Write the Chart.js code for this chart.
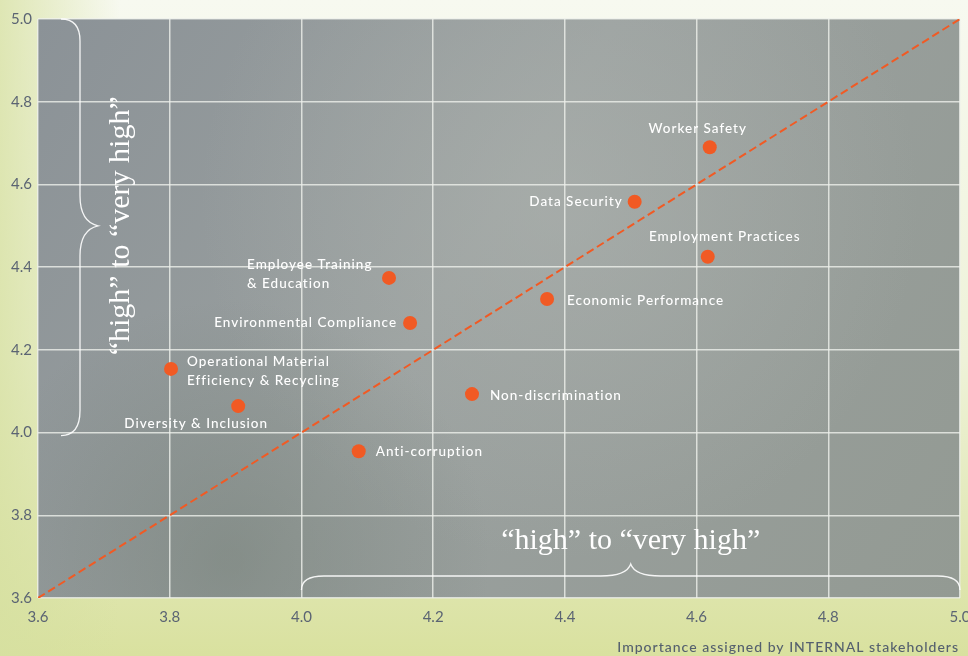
<!DOCTYPE html>
<html>
<head>
<meta charset="utf-8">
<script src="https://cdn.jsdelivr.net/npm/chart.js@4"></script>
<style>
  html, body { margin: 0; padding: 0; background: #f3f6e8; overflow: hidden; }
  #wrap { width: 968px; height: 656px; position: relative; }
</style>
</head>
<body>
<div id="wrap"><canvas id="materiality"></canvas></div>
<script>
// Importance assigned by INTERNAL (x) vs EXTERNAL (y) stakeholders
const issueNames = [
  ['Worker Safety'],
  ['Data Security'],
  ['Employment Practices'],
  ['Economic Performance'],
  ['Employee Training', '& Education'],
  ['Environmental Compliance'],
  ['Operational Material', 'Efficiency & Recycling'],
  ['Diversity & Inclusion'],
  ['Non-discrimination'],
  ['Anti-corruption']
];
const internalScores = [4.62, 4.506, 4.617, 4.373, 4.133, 4.165, 3.802, 3.904, 4.259, 4.087];
const externalScores = [4.69, 4.558, 4.425, 4.323, 4.374, 4.265, 4.154, 4.064, 4.093, 3.955];
const parityLine = [3.6, 5.0];
const tickValues = [3.6, 3.8, 4.0, 4.2, 4.4, 4.6, 4.8, 5.0];
const braceText = '\u201Chigh\u201D to \u201Cvery high\u201D';
const braceRange = [4.0, 5.0];
const axisTitle = 'Importance assigned by INTERNAL stakeholders';

// label placement relative to each point (style only)
const labelPlacement = [
  { dx: -12, dy: -19, align: 'center' },
  { dx: -12, dy: 0, align: 'right' },
  { dx: 17, dy: -20, align: 'center' },
  { dx: 20, dy: 2, align: 'left' },
  { dx: -142, dy: -13, align: 'left' },
  { dx: -13, dy: 0, align: 'right' },
  { dx: 16, dy: -7, align: 'left' },
  { dx: -42, dy: 18, align: 'center' },
  { dx: 18, dy: 2, align: 'left' },
  { dx: 17, dy: 0, align: 'left' }
];

const ORANGE = '#f15a24';
const LABEL_FONT = '500 13.5px Lato, "Open Sans", sans-serif';

const backdrop = {
  id: 'backdrop',
  beforeDraw(chart) {
    const { ctx, width, height, chartArea: a } = chart;
    ctx.save();
    // page background: pale at top, yellow-green at bottom
    let g = ctx.createLinearGradient(0, 0, 0, height);
    g.addColorStop(0, '#f7f9f0');
    g.addColorStop(0.55, '#eef2d8');
    g.addColorStop(1, '#d9e19f');
    ctx.fillStyle = g;
    ctx.fillRect(0, 0, width, height);
    g = ctx.createLinearGradient(0, 0, 120, 0);
    g.addColorStop(0, 'rgba(214,224,160,0.75)');
    g.addColorStop(1, 'rgba(214,224,160,0)');
    ctx.fillStyle = g;
    ctx.fillRect(0, 0, 120, height);

    // plot panel
    g = ctx.createLinearGradient(a.left, a.top, a.right, a.bottom);
    g.addColorStop(0, '#8b9297');
    g.addColorStop(0.45, '#9aa09f');
    g.addColorStop(1, '#939a93');
    ctx.fillStyle = g;
    ctx.fillRect(a.left, a.top, a.right - a.left, a.bottom - a.top);
    g = ctx.createRadialGradient(560, 200, 20, 560, 200, 360);
    g.addColorStop(0, 'rgba(175,180,176,0.55)');
    g.addColorStop(1, 'rgba(175,180,176,0)');
    ctx.fillStyle = g;
    ctx.fillRect(a.left, a.top, a.right - a.left, a.bottom - a.top);
    g = ctx.createRadialGradient(230, 560, 10, 230, 560, 260);
    g.addColorStop(0, 'rgba(110,122,112,0.45)');
    g.addColorStop(1, 'rgba(110,122,112,0)');
    ctx.fillStyle = g;
    ctx.fillRect(a.left, a.top, a.right - a.left, a.bottom - a.top);
    ctx.restore();
  }
};

const annotations = {
  id: 'annotations',
  afterDatasetsDraw(chart) {
    const { ctx, scales: { x, y } } = chart;
    ctx.save();
    ctx.strokeStyle = 'rgba(255,255,255,0.9)';
    ctx.lineWidth = 1.3;

    // bottom brace along the x axis
    const bx0 = x.getPixelForValue(braceRange[0]);
    const bx1 = x.getPixelForValue(braceRange[1]);
    const bmid = (bx0 + bx1) / 2;
    const by = 576, r = 14;
    ctx.beginPath();
    ctx.moveTo(bx0, by + r);
    ctx.quadraticCurveTo(bx0, by, bx0 + r * 1.6, by);
    ctx.lineTo(bmid - 30, by);
    ctx.quadraticCurveTo(bmid - 4, by, bmid, by - 12);
    ctx.quadraticCurveTo(bmid + 4, by, bmid + 30, by);
    ctx.lineTo(bx1 - r * 1.6, by);
    ctx.quadraticCurveTo(bx1, by, bx1, by + r);
    ctx.stroke();

    // left brace along the y axis
    const ly0 = y.getPixelForValue(braceRange[1]);
    const ly1 = y.getPixelForValue(braceRange[0]);
    const lmid = (ly0 + ly1) / 2;
    const lx = 80;
    ctx.beginPath();
    ctx.moveTo(lx - 19, ly0);
    ctx.quadraticCurveTo(lx, ly0, lx, ly0 + 22);
    ctx.lineTo(lx, lmid - 30);
    ctx.quadraticCurveTo(lx, lmid - 4, lx + 18, lmid);
    ctx.quadraticCurveTo(lx, lmid + 4, lx, lmid + 30);
    ctx.lineTo(lx, ly1 - 22);
    ctx.quadraticCurveTo(lx, ly1 + 3, lx - 19, ly1 + 3);
    ctx.stroke();

    ctx.fillStyle = '#ffffff';
    ctx.font = '30px "Liberation Serif", "DejaVu Serif", serif';
    ctx.textAlign = 'center';
    ctx.textBaseline = 'middle';
    ctx.fillText(braceText, bmid, 541);
    ctx.save();
    ctx.translate(121, lmid);
    ctx.rotate(-Math.PI / 2);
    ctx.fillText(braceText, 0, 0);
    ctx.restore();

    // issue labels
    ctx.font = LABEL_FONT;
    ctx.letterSpacing = '1px';
    ctx.fillStyle = '#ffffff';
    ctx.textBaseline = 'middle';
    const pts = chart.getDatasetMeta(1).data;
    pts.forEach((pt, i) => {
      const p = labelPlacement[i];
      ctx.textAlign = p.align;
      issueNames[i].forEach((line, k) => {
        ctx.fillText(line, pt.x + p.dx, pt.y + p.dy + k * 19);
      });
    });

    // x axis title
    ctx.font = '500 14px Lato, sans-serif';
    ctx.fillStyle = '#55606e';
    ctx.textAlign = 'right';
    ctx.fillText(axisTitle, x.right - 1, 647);
    ctx.restore();
  }
};

const ctx = document.getElementById('materiality').getContext('2d');
new Chart(ctx, {
  type: 'scatter',
  data: {
    datasets: [
      {
        type: 'line',
        data: parityLine.map(v => ({ x: v, y: v })),
        borderColor: ORANGE,
        borderWidth: 2,
        borderDash: [8, 4],
        pointRadius: 0,
        fill: false
      },
      {
        data: internalScores.map((v, i) => ({ x: v, y: externalScores[i] })),
        backgroundColor: ORANGE,
        borderWidth: 0,
        pointRadius: 7,
        pointHoverRadius: 7
      }
    ]
  },
  options: {
    responsive: true,
    maintainAspectRatio: false,
    animation: false,
    layout: { padding: { top: 19, right: 8, left: 0, bottom: 0 } },
    plugins: {
      legend: { display: false },
      tooltip: { enabled: false }
    },
    scales: {
      x: {
        type: 'linear',
        min: 3.6,
        max: 5.0,
        afterBuildTicks: s => { s.ticks = tickValues.map(v => ({ value: v })); },
        afterFit: s => { s.height = 58; s.paddingRight = 0; s.paddingLeft = 0; },
        grid: { color: 'rgba(238,240,235,0.8)', lineWidth: 1.5, drawTicks: false },
        border: { display: false },
        ticks: {
          padding: 10,
          color: '#5b6473',
          font: { family: 'Lato, sans-serif', size: 15 },
          callback: v => v.toFixed(1),
          maxRotation: 0
        }
      },
      y: {
        type: 'linear',
        min: 3.6,
        max: 5.0,
        afterBuildTicks: s => { s.ticks = tickValues.map(v => ({ value: v })); },
        afterFit: s => { s.width = 38; },
        grid: { color: 'rgba(238,240,235,0.8)', lineWidth: 1.5, drawTicks: false },
        border: { display: false },
        ticks: {
          padding: 6,
          color: '#5b6473',
          font: { family: 'Lato, sans-serif', size: 15 },
          callback: v => v.toFixed(1)
        }
      }
    }
  },
  plugins: [backdrop, annotations]
});
</script>
</body>
</html>
